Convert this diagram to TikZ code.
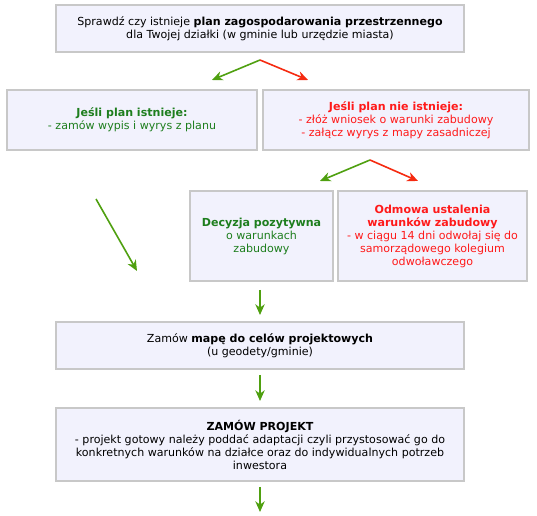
\documentclass[tikz,border=0pt]{standalone}
\usepackage{fontspec}
\setmainfont{DejaVu Sans}
\usetikzlibrary{arrows.meta}
\definecolor{boxfill}{HTML}{F2F2FD}
\definecolor{boxline}{HTML}{C8C8C8}
\definecolor{txtgreen}{HTML}{1E7E1E}
\definecolor{txtred}{HTML}{FF1A1A}
\definecolor{arrgreen}{HTML}{4FA010}
\definecolor{arrred}{HTML}{F52A10}
\begin{document}
\begin{tikzpicture}[x=0.75pt,y=-0.75pt,
  box/.style={draw=boxline, line width=0.9pt, fill=boxfill, align=center, inner sep=0pt,
    font=\fontsize{8.3}{9.75}\selectfont},
  garrow/.style={draw=arrgreen, line width=1.2pt, -{Stealth[length=8pt,width=7pt,inset=2.5pt]}},
  rarrow/.style={draw=arrred, line width=1.2pt, -{Stealth[length=8pt,width=7pt,inset=2.5pt]}},
  gtext/.style={text=txtgreen},
  rtext/.style={text=txtred}]
\useasboundingbox (0,0) rectangle (537,516);
\node[box, minimum width=306pt, minimum height=35.25pt] (b1) at (260,28.5)
  {Sprawdź czy istnieje \textbf{plan zagospodarowania przestrzennego}\\dla Twojej działki (w gminie lub urzędzie miasta)};
\node[box, gtext, minimum width=187.5pt, minimum height=45pt] (b2) at (132,120)
  {\textbf{Jeśli plan istnieje:}\\- zamów wypis i wyrys z planu};
\node[box, rtext, minimum width=199.5pt, minimum height=45pt] (b3) at (396,120)
  {\textbf{Jeśli plan nie istnieje:}\\- złóż wniosek o warunki zabudowy\\- załącz wyrys z mapy zasadniczej};
\node[box, gtext, minimum width=107.25pt, minimum height=67.5pt] (b4) at (261.5,236)
  {\textbf{Decyzja pozytywna}\\o warunkach\\zabudowy};
\node[box, rtext, minimum width=141.75pt, minimum height=67.5pt] (b5) at (432.5,236)
  {\textbf{Odmowa ustalenia}\\\textbf{warunków zabudowy}\\- w ciągu 14 dni odwołaj się do\\samorządowego kolegium\\odwoławczego};
\node[box, minimum width=306pt, minimum height=35.25pt] (b6) at (260,345.5)
  {Zamów \textbf{mapę do celów projektowych}\\(u geodety/gminie)};
\node[box, minimum width=306pt, minimum height=54.75pt] (b7) at (260,444.5)
  {\textbf{ZAMÓW PROJEKT}\\- projekt gotowy należy poddać adaptacji czyli przystosować go do\\konkretnych warunków na działce oraz do indywidualnych potrzeb\\inwestora};
% fork 1
\coordinate (f1) at (260,60);
\coordinate (f1g) at (212,80);
\coordinate (f1r) at (308,80);
\draw[garrow] (f1) -- (f1g);
\draw[rarrow] (f1) -- (f1r);
% fork 2
\coordinate (f2) at (370,160);
\coordinate (f2g) at (320,181);
\coordinate (f2r) at (418,181);
\draw[garrow] (f2) -- (f2g);
\draw[rarrow] (f2) -- (f2r);
% long green arrow
\coordinate (lg1) at (96,199);
\coordinate (lg2) at (137,271);
\draw[garrow] (lg1) -- (lg2);
% vertical arrows
\coordinate (v1s) at (260,290);
\coordinate (v1e) at (260,315);
\coordinate (v2s) at (260,375);
\coordinate (v2e) at (260,401);
\coordinate (v3s) at (260,487);
\coordinate (v3e) at (260,512);
\draw[garrow] (v1s) -- (v1e);
\draw[garrow] (v2s) -- (v2e);
\draw[garrow] (v3s) -- (v3e);
\end{tikzpicture}
\end{document}
